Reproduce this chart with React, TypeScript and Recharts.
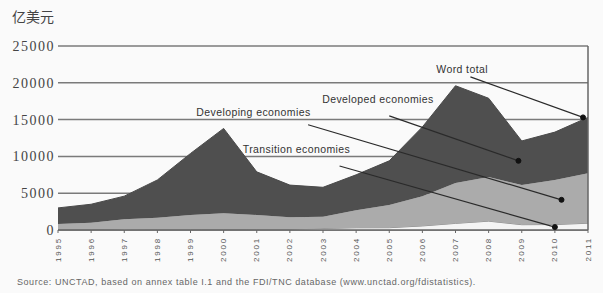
import React from 'react';
import {
  AreaChart,
  Area,
  XAxis,
  YAxis,
  CartesianGrid,
  ReferenceLine,
  ReferenceDot,
} from 'recharts';

const years = [1995, 1996, 1997, 1998, 1999, 2000, 2001, 2002, 2003, 2004, 2005, 2006, 2007, 2008, 2009, 2010, 2011];
const transition = [60, 60, 120, 100, 100, 70, 100, 110, 200, 300, 310, 550, 900, 1200, 720, 740, 920];
const developing = [740, 940, 1330, 1570, 1940, 2200, 1940, 1610, 1600, 2400, 3090, 4050, 5500, 6000, 5380, 6060, 6780];
const developed = [2200, 2500, 3150, 5130, 8360, 11530, 5860, 4380, 4000, 4800, 6000, 9400, 13200, 10700, 6000, 6500, 7600];
const yTicks = [0, 5000, 10000, 15000, 20000, 25000];

const unitLabel = '亿美元';
const sourceText = 'Source: UNCTAD, based on annex table I.1 and the FDI/TNC database (www.unctad.org/fdistatistics).';

// annotation: label text + label anchor + pointer segment (data coordinates)
const annotations = [
  { text: 'Word total', lx: 2007.2, ly: 21900, x1: 2007.45, y1: 20800, x2: 2010.85, y2: 15300 },
  { text: 'Developed economies', lx: 2004.66, ly: 17700, x1: 2005.0, y1: 15500, x2: 2008.9, y2: 9400 },
  { text: 'Developing economies', lx: 2000.9, ly: 16050, x1: 2002.55, y1: 14300, x2: 2010.2, y2: 4100 },
  { text: 'Transition economies', lx: 2002.2, ly: 11000, x1: 2003.5, y1: 8700, x2: 2010.0, y2: 400 },
];

const data = years.map((y, i) => ({
  year: y,
  transition: transition[i],
  developing: developing[i],
  developed: developed[i],
}));

const XTick = (props: any) => {
  const { x, y, payload } = props;
  return (
    <text
      x={x}
      y={y}
      transform={`rotate(-90 ${x} ${y})`}
      textAnchor="end"
      dominantBaseline="central"
      fontSize={8}
      letterSpacing={1.8}
      fill="#555"
      fontFamily="Arial, 'Liberation Sans', sans-serif"
    >
      {payload.value}
    </text>
  );
};

export default function App() {
  return (
    <div
      style={{
        position: 'absolute',
        left: 0,
        top: 0,
        width: 603,
        height: 293,
        background: '#fafafa',
        overflow: 'hidden',
      }}
    >
      <div
        style={{
          position: 'absolute',
          left: 12,
          top: 8,
          fontSize: 14,
          color: '#444',
          fontFamily: "'Noto Sans CJK SC', sans-serif",
          lineHeight: '16px',
        }}
      >
        {unitLabel}
      </div>
      <div style={{ position: 'absolute', left: 0, top: 0 }}>
        <AreaChart
          width={603}
          height={293}
          data={data}
          margin={{ top: 46, right: 15, bottom: 33, left: 0 }}
        >
          <CartesianGrid horizontal vertical={false} stroke="#7a7a7a" strokeWidth={1.5} />
          <XAxis
            dataKey="year"
            type="number"
            domain={[1995, 2011]}
            ticks={years}
            interval={0}
            height={30}
            tick={<XTick />}
            tickSize={3}
            tickMargin={4}
            stroke="#666"
            axisLine={{ stroke: '#666', strokeWidth: 1.5 }}
          />
          <YAxis
            domain={[0, 25000]}
            ticks={yTicks}
            width={58}
            tickLine={false}
            axisLine={false}
            tickSize={0}
            tickMargin={3}
            tick={{ fontSize: 14, fill: '#444', fontFamily: "'Liberation Serif', 'Times New Roman', serif", letterSpacing: 1.5 }}
          />
          <Area
            type="linear"
            dataKey="transition"
            stackId="a"
            stroke="#8a8a8a"
            strokeWidth={1}
            fill="#f4f4f4"
            fillOpacity={1}
            isAnimationActive={false}
          />
          <Area
            type="linear"
            dataKey="developing"
            stackId="a"
            stroke="none"
            fill="#ababab"
            fillOpacity={1}
            isAnimationActive={false}
          />
          <Area
            type="linear"
            dataKey="developed"
            stackId="a"
            stroke="#4a4a4a"
            strokeWidth={1}
            fill="#4f4f4f"
            fillOpacity={1}
            isAnimationActive={false}
          />
          <ReferenceLine x={2011} stroke="#666" strokeWidth={1.5} />
          {annotations.map((a) => (
            <ReferenceLine
              key={a.text + '-line'}
              segment={[
                { x: a.x1, y: a.y1 },
                { x: a.x2, y: a.y2 },
              ]}
              stroke="#2a2a2a"
              strokeWidth={1.2}
              ifOverflow="visible"
            />
          ))}
          {annotations.map((a) => (
            <ReferenceDot
              key={a.text + '-dot'}
              x={a.x2}
              y={a.y2}
              r={2.5}
              fill="#111"
              stroke="#111"
              ifOverflow="visible"
            />
          ))}
          {annotations.map((a) => (
            <ReferenceDot
              key={a.text + '-label'}
              x={a.lx}
              y={a.ly}
              r={0}
              fill="none"
              stroke="none"
              ifOverflow="visible"
              label={{
                value: a.text,
                position: 'center',
                fontSize: 10.5,
                letterSpacing: 0.4,
                fill: '#333',
                fontFamily: "Arial, 'Liberation Sans', sans-serif",
              }}
            />
          ))}
        </AreaChart>
      </div>
      <div
        style={{
          position: 'absolute',
          left: 17,
          top: 277,
          fontSize: 9,
          letterSpacing: 0.55,
          color: '#666',
          fontFamily: "Arial, 'Liberation Sans', sans-serif",
          whiteSpace: 'nowrap',
          lineHeight: '11px',
        }}
      >
        {sourceText}
      </div>
    </div>
  );
}
